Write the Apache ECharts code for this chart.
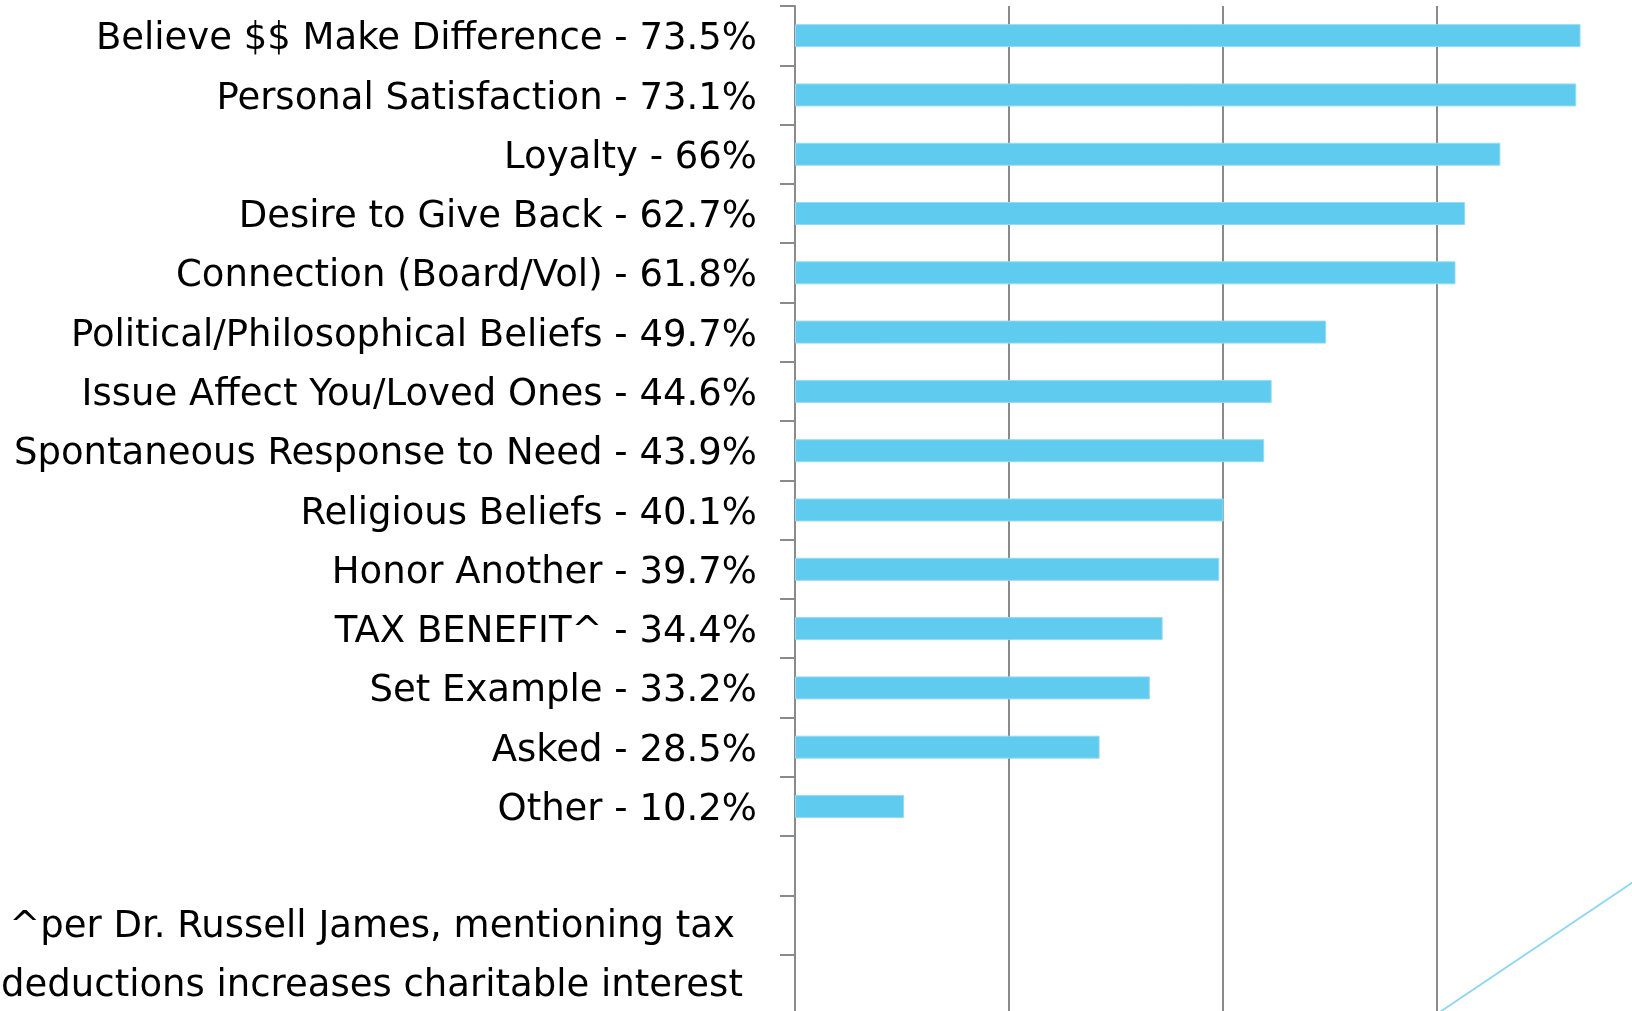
<!DOCTYPE html>
<html>
<head>
<meta charset="utf-8">
<script src="https://cdn.jsdelivr.net/npm/echarts@6/dist/echarts.min.js"></script>
<style>
html,body{margin:0;padding:0;background:#fff;overflow:hidden;width:1632px;height:1011px;}
#chart{width:1700px;height:1100px;}
</style>
</head>
<body>
<div id="chart"></div>
<script>
const categories = [
  "Believe $$ Make Difference", "Personal Satisfaction", "Loyalty", "Desire to Give Back",
  "Connection (Board/Vol)", "Political/Philosophical Beliefs", "Issue Affect You/Loved Ones",
  "Spontaneous Response to Need", "Religious Beliefs", "Honor Another", "TAX BENEFIT^",
  "Set Example", "Asked", "Other", "", "", ""
];
const values = [73.5, 73.1, 66, 62.7, 61.8, 49.7, 44.6, 43.9, 40.1, 39.7, 34.4, 33.2, 28.5, 10.2, null, null, null];
const xTicks = [0, 20, 40, 60, 80];
const footnote = ["^per Dr. Russell James, mentioning tax", "deductions increases charitable interest"];

const FONT = '"DejaVu Sans", "Liberation Sans", sans-serif';
const labels = categories.map((c, i) => c ? c + " - " + values[i] + "%" : "");

const chart = echarts.init(document.getElementById('chart'), null, {renderer: 'canvas'});
chart.setOption({
  animation: false,
  backgroundColor: '#fff',
  grid: {left: 795, top: 6, width: 855, height: 1008, containLabel: false},
  xAxis: {
    type: 'value', min: xTicks[0], max: xTicks[xTicks.length - 1], interval: 20,
    axisLine: {show: false}, axisTick: {show: false}, axisLabel: {show: false},
    splitLine: {show: true, lineStyle: {color: '#8a8a8a', width: 2}}
  },
  yAxis: {
    type: 'category', inverse: true, data: labels,
    axisLine: {show: true, lineStyle: {color: '#8a8a8a', width: 2}},
    axisTick: {show: true, length: 15, lineStyle: {color: '#8a8a8a', width: 2}},
    axisLabel: {
      margin: 38, color: '#000', fontSize: 37, fontFamily: FONT,
      formatter: v => v ? '{a|' + v + '}' : '',
      rich: {a: {color: '#000', fontSize: 37, fontFamily: FONT, padding: [8, 0, 0, 0]}}
    }
  },
  series: [{
    type: 'bar', data: values, barWidth: 23,
    itemStyle: {color: '#5ecbef', borderColor: '#96dbf3', borderWidth: 1}
  }],
  graphic: [
    {type: 'text', x: 372, y: 927, style: {text: footnote[0], fill: '#000', font: '37px ' + FONT, textAlign: 'center', textVerticalAlign: 'middle'}},
    {type: 'text', x: 372, y: 986, style: {text: footnote[1], fill: '#000', font: '37px ' + FONT, textAlign: 'center', textVerticalAlign: 'middle'}},
    {type: 'line', shape: {x1: 1428, y1: 1020, x2: 1660, y2: 864}, style: {stroke: '#8fd7f0', lineWidth: 2}}
  ]
});
</script>
</body>
</html>
